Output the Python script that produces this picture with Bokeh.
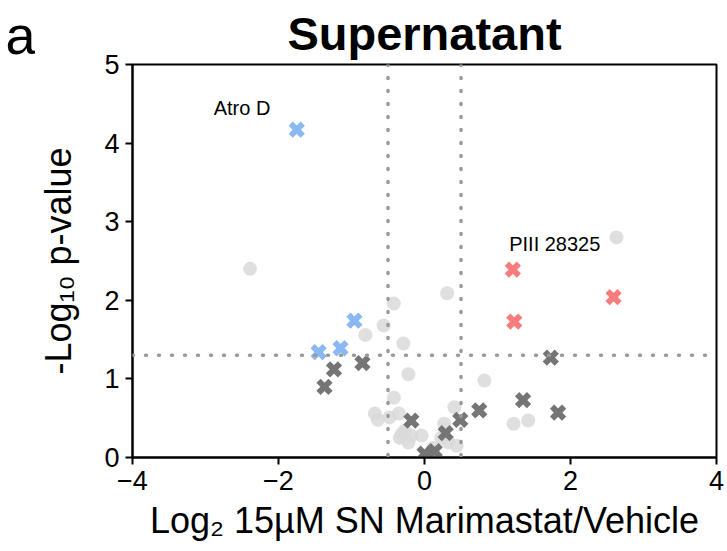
from bokeh.plotting import figure
from bokeh.models import Span, Label, FixedTicker, Title
from bokeh.layouts import row
from bokeh.embed import file_html
from bokeh.resources import INLINE

# Non-significant proteins (light grey circles)
ns_x = [-2.39, 2.63, 0.31, -0.42, -0.56, -0.81, -0.29, -0.22, 0.82, -0.42,
        -0.68, -0.48, -0.35, -0.64, 0.41, 0.27, -0.34, -0.18, -0.04, -0.22,
        0.33, 0.44, -0.27, 0.23, 1.22, 1.42, -0.31, 0.12]
ns_y = [2.40, 2.80, 2.09, 1.96, 1.68, 1.56, 1.45, 1.06, 0.98, 0.76,
        0.56, 0.51, 0.56, 0.48, 0.64, 0.43, 0.25, 0.28, 0.28, 0.19,
        0.19, 0.15, 0.34, 0.25, 0.43, 0.47, 0.30, 0.12]

# Toxins not changed (dark grey crosses)
tox_x = [-1.37, -1.24, -0.85, -0.18, 0.00, 0.14, 0.29, 0.49, 0.75, 1.35, 1.73, 1.83]
tox_y = [0.90, 1.12, 1.20, 0.47, 0.05, 0.08, 0.31, 0.48, 0.60, 0.73, 1.27, 0.57]

# Decreased toxins (blue crosses)
down_x = [-1.75, -0.96, -1.15, -1.45]
down_y = [4.17, 1.74, 1.39, 1.34]

# Increased toxins (red crosses)
up_x = [1.21, 1.23, 2.59]
up_y = [2.39, 1.73, 2.04]

x_ticks = [-4, -2, 0, 2, 4]
y_ticks = [0, 1, 2, 3, 4, 5]
fc_cut = 0.5
p_cut = 1.3

# ---- narrow panel holding the panel letter ----
lp = figure(width=35, height=551, x_range=(0, 1), y_range=(0, 1),
            output_backend="svg", toolbar_location=None,
            x_axis_type=None, y_axis_type=None,
            min_border_left=0, min_border_right=0,
            min_border_top=64, min_border_bottom=94)
lp.outline_line_color = None
lp.xgrid.visible = False
lp.ygrid.visible = False
lp.title = None
lp.add_layout(Title(text="a", align="left", offset=5, standoff=0,
                    text_font="Liberation Sans", text_font_size="54px",
                    text_font_style="normal", text_color="black"), "above")

# ---- main volcano plot ----
p = figure(width=692, height=551, x_range=(-4, 4), y_range=(0, 5),
           output_backend="svg", toolbar_location=None,
           min_border_left=95, min_border_right=11,
           min_border_top=64, min_border_bottom=94)
p.xgrid.visible = False
p.ygrid.visible = False
p.outline_line_color = "black"
p.outline_line_width = 2
p.background_fill_color = "white"
p.border_fill_color = "white"

for ax in (p.xaxis[0], p.yaxis[0]):
    ax.axis_line_width = 2
    ax.axis_line_color = "black"
    ax.major_tick_line_width = 2
    ax.major_tick_line_color = "black"
    ax.major_tick_out = 7
    ax.major_tick_in = 0
    ax.minor_tick_line_color = None
    ax.major_label_text_font = "Liberation Sans"
    ax.major_label_text_font_size = "27px"
    ax.major_label_text_color = "black"
    ax.axis_label_text_font = "Liberation Sans"
    ax.axis_label_text_font_size = "36px"
    ax.axis_label_text_font_style = "normal"
    ax.axis_label_text_color = "black"

p.xaxis.ticker = FixedTicker(ticks=x_ticks)
p.yaxis.ticker = FixedTicker(ticks=y_ticks)
p.xaxis.axis_label = "Log\u2082 15\u00b5M SN Marimastat/Vehicle"
p.yaxis.axis_label = "-Log\u2081\u2080 p-value"
p.xaxis.major_label_standoff = 6
p.yaxis.major_label_standoff = 6
p.xaxis.axis_label_standoff = 7
p.yaxis.axis_label_standoff = 22

# light grey circles
p.scatter(ns_x, ns_y, marker="circle", size=14, fill_color="#d9d9d9",
          fill_alpha=0.85, line_color=None)

# threshold lines
for loc in (-fc_cut, fc_cut):
    p.add_layout(Span(location=loc, dimension="height", line_color="#9a9a9a",
                      line_width=3.5, line_dash="1 12", line_cap="round"))
p.add_layout(Span(location=p_cut, dimension="width", line_color="#9a9a9a",
                  line_width=3.5, line_dash="1 12", line_cap="round"))

p.scatter(tox_x, tox_y, marker="x", size=17, line_color="#757575", line_width=6)
p.scatter(down_x, down_y, marker="x", size=17, line_color="#8ab8f2", line_width=6)
p.scatter(up_x, up_y, marker="x", size=17, line_color="#f77d7d", line_width=6)

p.add_layout(Label(x=-2.5, y=4.45, text="Atro D", text_font="Liberation Sans",
                   text_font_size="20px", text_align="center", text_baseline="middle",
                   text_color="black"))
p.add_layout(Label(x=1.16, y=2.72, text="PIII 28325", text_font="Liberation Sans",
                   text_font_size="20px", text_align="left", text_baseline="middle",
                   text_color="black"))

# title
title = Title(text="Supernatant", align="center", offset=5, standoff=9,
              text_font="Liberation Sans", text_font_size="47px",
              text_font_style="bold", text_color="black")
p.add_layout(title, "above")

layout = row(lp, p, spacing=0)
open("out.html", "w").write(file_html(layout, INLINE))
